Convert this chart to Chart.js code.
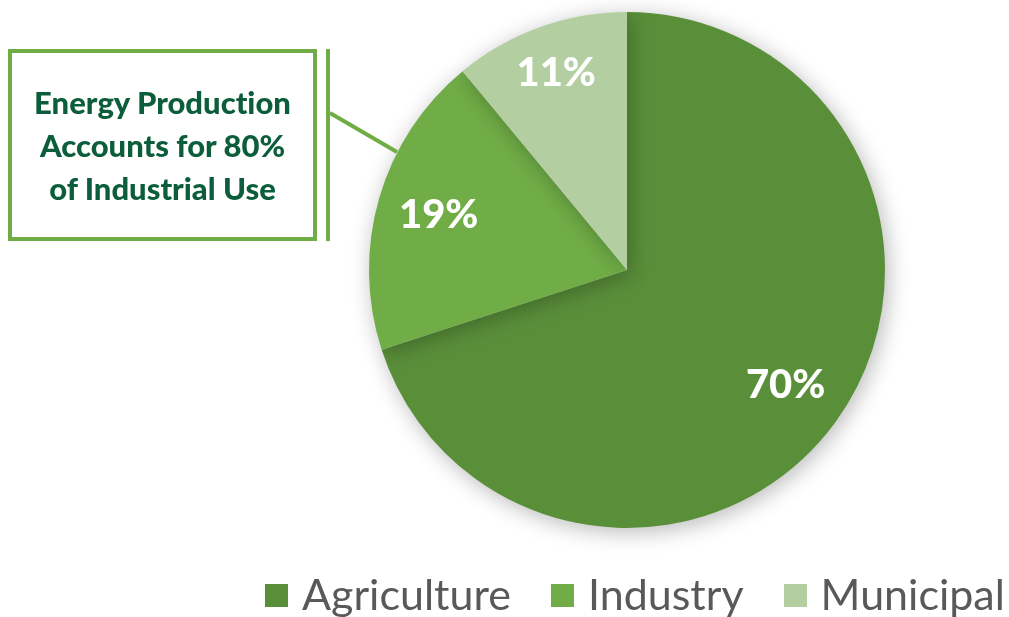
<!DOCTYPE html>
<html>
<head>
<meta charset="utf-8">
<script src="https://cdn.jsdelivr.net/npm/chart.js@4"></script>
<style>
  html, body { margin: 0; padding: 0; background: #fff; }
  #wrap { position: relative; width: 1009px; height: 617px; overflow: hidden; }
  #chart { position: absolute; left: 0; top: 0; }
  #callout {
    position: absolute; left: 8px; top: 49px; width: 301px; height: 184px;
    border: 4px solid #70ad47; box-sizing: content-box;
    display: flex; align-items: center; justify-content: center; text-align: center;
    font-family: Lato, sans-serif; font-weight: 900; font-size: 31px; line-height: 43px;
    font-variant-ligatures: none;
    color: #0b5d3b;
  }
  #legend {
    position: absolute; left: 265px; top: 570px; height: 47px;
    display: flex; align-items: center;
    font-family: Lato, sans-serif; font-size: 43px; color: #595959;
  }
  .item { display: flex; align-items: center; margin-right: 40px; }
  .item:last-child { margin-right: 0; }
  .box { width: 23px; height: 23px; margin-right: 14px; margin-top: 4px; }
</style>
</head>
<body>
<div id="wrap">
  <canvas id="chart" width="1009" height="617"></canvas>
  <div id="callout">Energy Production<br>Accounts for 80%<br>of Industrial Use</div>
  <div id="legend"></div>
</div>
<script>
const categories = ['Agriculture', 'Industry', 'Municipal'];
const shares = [70, 19, 11];
const colors = ['#5a8f3a', '#70ad47', '#b3cfa2'];

// legend
const legend = document.getElementById('legend');
categories.forEach((name, i) => {
    const item = document.createElement('div');
    item.className = 'item';
    item.innerHTML = `<span class="box" style="background:${colors[i]}"></span><span>${name}</span>`;
    legend.appendChild(item);
});

const shadowPlugin = {
    id: 'shadow',
    beforeDatasetsDraw(chart) {
        const ctx = chart.ctx;
        ctx.save();
        ctx.shadowColor = 'rgba(0,0,0,0.28)';
        ctx.shadowBlur = 22;
        ctx.shadowOffsetX = 3;
        ctx.shadowOffsetY = 4;
    },
    afterDatasetsDraw(chart) {
        chart.ctx.restore();
    },
};

const labelPlugin = {
    id: 'sliceLabels',
    afterDraw(chart) {
        const ctx = chart.ctx;
        const meta = chart.getDatasetMeta(0);
        ctx.save();
        ctx.fillStyle = '#fff';
        ctx.font = '900 40px Lato, sans-serif';
        ctx.textAlign = 'center';
        ctx.textBaseline = 'middle';
        meta.data.forEach((arc, i) => {
            const mid = (arc.startAngle + arc.endAngle) / 2;
            const r = arc.outerRadius * (i === 2 ? 0.81 : 0.76);
            ctx.fillText(shares[i] + '%', arc.x + Math.cos(mid) * r, arc.y + Math.sin(mid) * r);
        });

        // connector from callout to the Industry slice
        ctx.strokeStyle = '#70ad47';
        ctx.lineWidth = 4;
        ctx.beginPath();
        ctx.moveTo(328, 49);
        ctx.lineTo(328, 241);
        ctx.stroke();
        ctx.beginPath();
        ctx.moveTo(330, 113);
        ctx.lineTo(397, 152);
        ctx.stroke();
        ctx.restore();
    },
};

new Chart(document.getElementById('chart'), {
    type: 'pie',
    data: {
        labels: categories,
        datasets: [{
            data: shares,
            backgroundColor: colors,
            borderWidth: 0,
        }],
    },
    options: {
        responsive: false,
        animation: false,
        layout: { padding: { left: 368, right: 123, top: 12, bottom: 89 } },
        plugins: {
            legend: { display: false },
            tooltip: { enabled: false },
        },
    },
    plugins: [shadowPlugin, labelPlugin],
});
</script>
</body>
</html>
